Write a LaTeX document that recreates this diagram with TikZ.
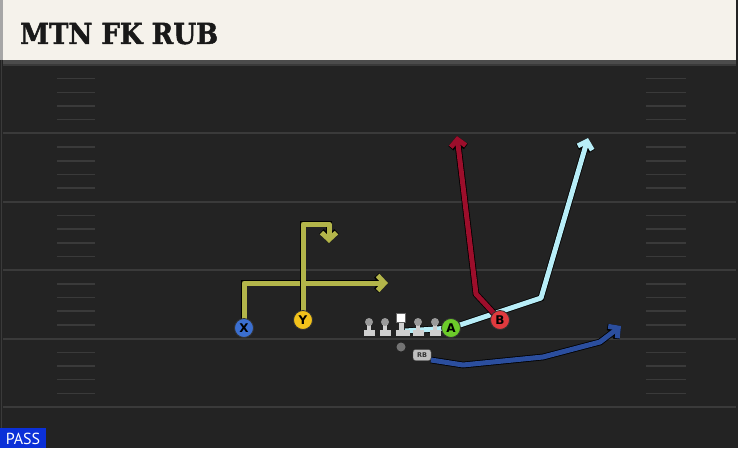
\documentclass[tikz,border=0pt]{standalone}
\usepackage{fontspec}
\setmainfont{DejaVu Sans}
\newfontfamily\titlefont{DejaVu Serif Condensed Bold}[FakeBold=1.5]
\newfontfamily\passfont{PT Sans}
\usetikzlibrary{arrows.meta}

\definecolor{fieldgray}{HTML}{232323}
\definecolor{linegray}{HTML}{3A3A3A}
\definecolor{headcream}{HTML}{F5F2EB}
\definecolor{routeolive}{HTML}{B3B54A}
\definecolor{routesky}{HTML}{B8EEF8}
\definecolor{routered}{HTML}{9C0E2B}
\definecolor{routeblue}{HTML}{2B4E9E}
\definecolor{playerblue}{HTML}{3B6FD0}
\definecolor{playeryellow}{HTML}{F2C21B}
\definecolor{playergreen}{HTML}{6CCB2A}
\definecolor{playerred}{HTML}{E03A3E}
\definecolor{passblue}{HTML}{0B30D8}
\definecolor{linemanbody}{HTML}{CFCFCF}
\definecolor{linemanhead}{HTML}{9A9A9A}

\tikzset{
  yardline/.style={draw=linegray, line width=2pt},
  hashmark/.style={draw=linegray, line width=1.5pt},
  route/.style={line width=5pt, line join=round,
    -{Straight Barb[length=7pt,width=15pt]},
    preaction={draw=black, line width=6.6pt}},
  player/.style={circle, draw=black!80, line width=0.8pt, minimum size=19pt,
    inner sep=0pt, font=\bfseries\fontsize{12}{12}\selectfont},
}

\begin{document}
\begin{tikzpicture}[x={(1pt,0pt)}, y={(0pt,-1pt)}]

   \pgfmathsetmacro{\yardGap}{68.4}
   \pgfmathsetmacro{\hashGap}{13.68}

   %% field and header
   \fill[fieldgray] (0,0) rectangle (738,448);
   \fill[black!70] (3,58) rectangle (736,65);
   \fill[headcream] (3,0) rectangle (736,60);
   \fill[black!35] (0,0) rectangle (3,60);
   \draw[linegray, line width=1.5pt] (1.5,60) -- (1.5,448);
   \node[anchor=base west, inner sep=0pt, text=black!90,
         font=\titlefont\fontsize{29}{29}\selectfont] (title) at (20,44) {MTN FK RUB};

   %% yard lines, hash marks between them
   \foreach \g in {0,...,5}
     \draw[yardline] (3, 65+\yardGap*\g) -- (736, 65+\yardGap*\g);
   \foreach \g in {0,...,4}
     \foreach \h in {1,...,4} {
       \draw[hashmark] (57, 65+\yardGap*\g+\hashGap*\h) -- (95, 65+\yardGap*\g+\hashGap*\h);
       \draw[hashmark] (646, 65+\yardGap*\g+\hashGap*\h) -- (686, 65+\yardGap*\g+\hashGap*\h);
     }

   %% players
   \coordinate (PlayerX) at (244,328);
   \coordinate (PlayerY) at (303,320);
   \coordinate (PlayerA) at (451,328);
   \coordinate (PlayerB) at (500,320);
   \coordinate (PlayerRB) at (422,355);

   %% route points
   \coordinate (XTurn) at (244,283);
   \coordinate (XEnd) at (388,283);
   \coordinate (YTurn) at (303,224);
   \coordinate (YCorner) at (329,224);
   \coordinate (YEnd) at (329,243);
   \coordinate (AStart) at (405,331);
   \coordinate (ABend) at (541,298);
   \coordinate (AEnd) at (588,138);
   \coordinate (BBend) at (476,294);
   \coordinate (BEnd) at (457,136);
   \coordinate (RBStart) at (431,360);
   \coordinate (RBDip) at (463,365);
   \coordinate (RBMid) at (543,357);
   \coordinate (RBBend) at (600,342);
   \coordinate (RBEnd) at (621,326);

   \draw[route, routeolive] (PlayerX) -- (XTurn) -- (XEnd);
   \draw[route, routeolive] (PlayerY) -- (YTurn) -- (YCorner) -- (YEnd);
   \draw[route, routesky] (AStart) -- (PlayerA) -- (ABend) -- (AEnd);
   \draw[route, routered] (PlayerB) -- (BBend) -- (BEnd);
   \draw[route, routeblue] (RBStart) -- (RBDip) -- (RBMid) -- (RBBend) -- (RBEnd);

   %% offensive line
   \foreach \lx in {369,385,418,435} {
     \fill[linemanbody] (\lx-5.5,330) rectangle (\lx+5.5,336);
     \fill[linemanbody] (\lx-2,322) rectangle (\lx+2,331);
     \fill[linemanhead] (\lx,322) circle (4);
   }
   \fill[linemanbody] (396,330) rectangle (410,336);
   \fill[linemanbody] (399,322) rectangle (403.5,331);
   \node[draw=black!60, fill=white, minimum size=9pt, inner sep=0pt] (center) at (401,318) {};
   \node[circle, fill=black!55, minimum size=9pt, inner sep=0pt] (qb) at (401,347) {};

   \node[player, fill=playerblue] (x) at (PlayerX) {X};
   \node[player, fill=playeryellow] (y) at (PlayerY) {Y};
   \node[player, fill=playergreen] (a) at (PlayerA) {A};
   \node[player, fill=playerred] (b) at (PlayerB) {B};
   \node[draw=black!70, fill=black!25, rounded corners=2.5pt, minimum width=18pt,
         minimum height=11pt, inner sep=0pt, text=black!80,
         font=\bfseries\fontsize{6.5}{6.5}\selectfont] (rb) at (PlayerRB) {RB};

   %% play type tag
   \fill[passblue] (0,428) rectangle (46,448);
   \node[text=white, font=\passfont\fontsize{16}{16}\selectfont, inner sep=0pt] (pass) at (23,439) {PASS};

\end{tikzpicture}
\end{document}
